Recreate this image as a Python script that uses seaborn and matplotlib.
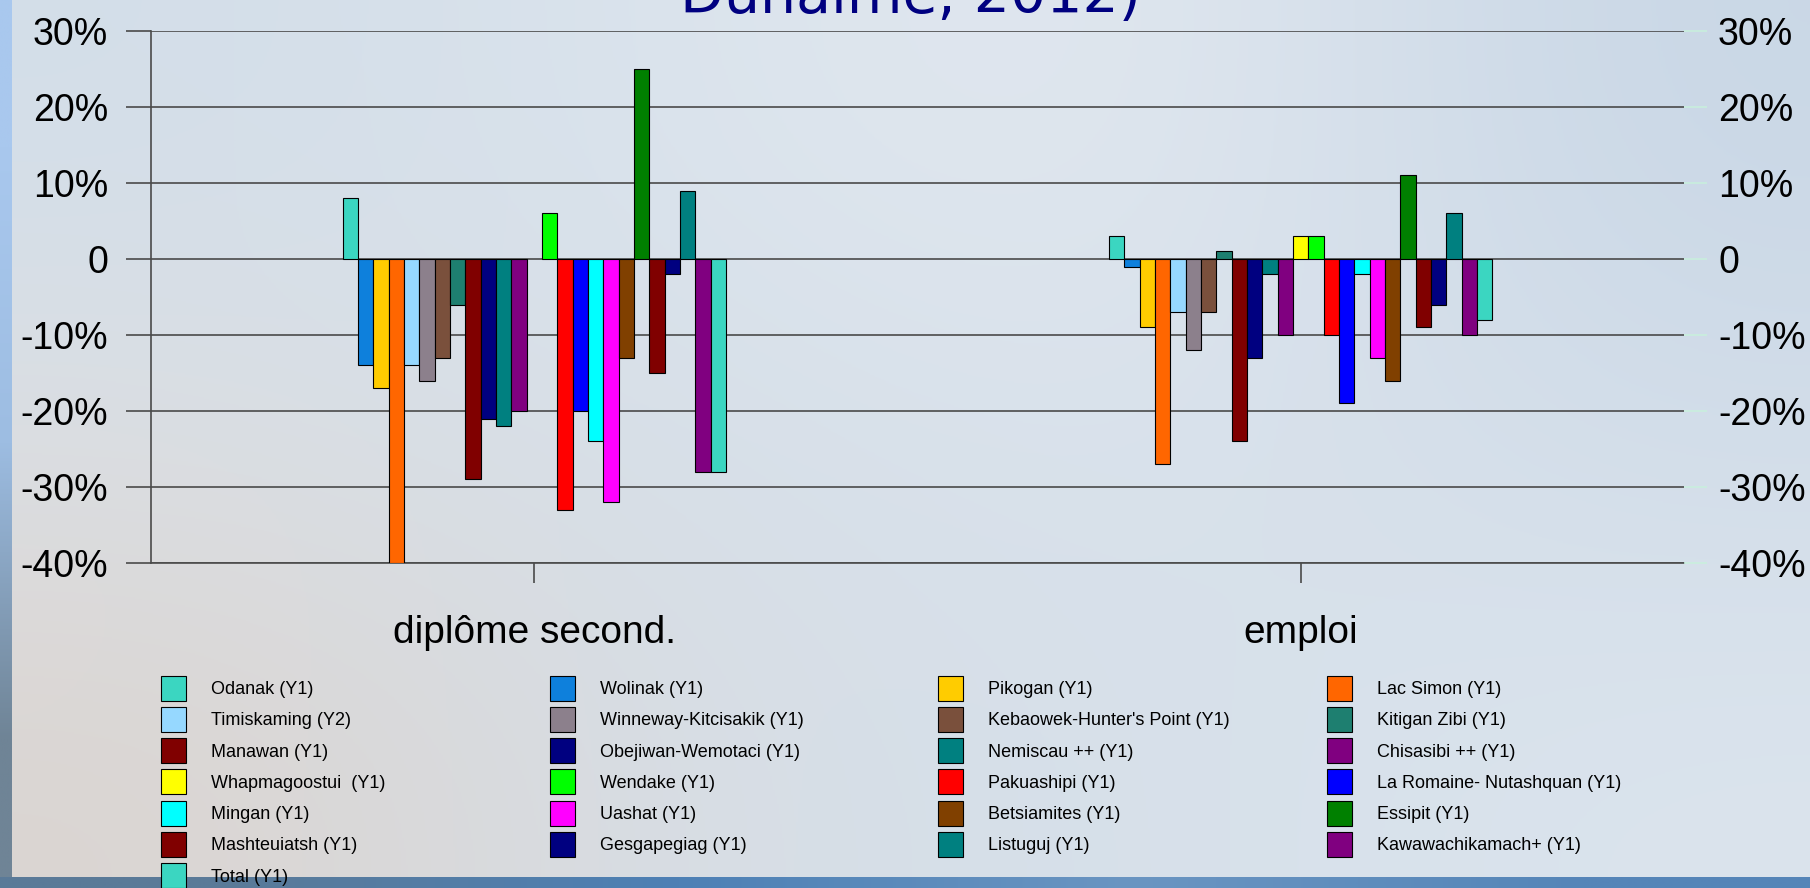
import numpy as np
import pandas as pd
import matplotlib
matplotlib.use("Agg")
import matplotlib.pyplot as plt
import matplotlib.colors as mcolors
import seaborn as sns
from matplotlib.patches import Patch

# ---------------- data ----------------
categories = ["diplôme second.", "emploi"]
series = ["Odanak (Y1)", "Wolinak (Y1)", "Pikogan (Y1)", "Lac Simon (Y1)",
          "Timiskaming (Y2)", "Winneway-Kitcisakik (Y1)", "Kebaowek-Hunter's Point (Y1)", "Kitigan Zibi (Y1)",
          "Manawan (Y1)", "Obejiwan-Wemotaci (Y1)", "Nemiscau ++ (Y1)", "Chisasibi ++ (Y1)",
          "Whapmagoostui  (Y1)", "Wendake (Y1)", "Pakuashipi (Y1)", "La Romaine- Nutashquan (Y1)",
          "Mingan (Y1)", "Uashat (Y1)", "Betsiamites (Y1)", "Essipit (Y1)",
          "Mashteuiatsh (Y1)", "Gesgapegiag (Y1)", "Listuguj (Y1)", "Kawawachikamach+ (Y1)",
          "Total (Y1)"]
diplome = [8, -14, -17, -40, -14, -16, -13, -6, -29, -21, -22, -20, np.nan,
           6, -33, -20, -24, -32, -13, 25, -15, -2, 9, -28, -28]
emploi = [3, -1, -9, -27, -7, -12, -7, 1, -24, -13, -2, -10, 3,
          3, -10, -19, -2, -13, -16, 11, -9, -6, 6, -10, -8]
colors = ["#3BD6C1", "#0E80DC", "#FFCC00", "#FF6600",
          "#96D8FF", "#8C808C", "#7A503C", "#1E7F70",
          "#800000", "#000080", "#008080", "#800080",
          "#FFFF00", "#00FF00", "#FF0000", "#0000FF",
          "#00FFFF", "#FF00FF", "#804000", "#008000",
          "#800000", "#000080", "#008080", "#800080",
          "#3BD6C1"]
ytick_values = [30, 20, 10, 0, -10, -20, -30, -40]
ytick_labels = ["30%", "20%", "10%", "0", "-10%", "-20%", "-30%", "-40%"]
title_text = "Dunaime, 2012)"

df = pd.DataFrame({
    "cat": [categories[0]] * len(series) + [categories[1]] * len(series),
    "series": series + series,
    "val": diplome + emploi,
}).dropna()

# ---------------- figure ----------------
W, H = 1810, 888
plt.rcParams["font.family"] = ["Liberation Sans", "DejaVu Sans"]
fig = plt.figure(figsize=(W / 100, H / 100), dpi=100)

# background
bg = fig.add_axes([0, 0, 1, 1], zorder=-10)
bg.set_xlim(0, W)
bg.set_ylim(H, 0)
bg.axis("off")
grid_cols = [["#d3dee9", "#dbe4ed", "#e3e9f0", "#c9d7e6"],
             ["#dcdfe3", "#d5dfe9", "#dbe3ec", "#d2dde9"],
             ["#dbd5d1", "#d7dee6", "#d6e0ea", "#dbe4ed"]]
img = np.array([[mcolors.to_rgb(c) for c in row] for row in grid_cols])
bg.imshow(img, extent=(11, W, 877, 0), interpolation="bicubic", aspect="auto")
strip = np.array([[mcolors.to_rgb("#a9c8ee")], [mcolors.to_rgb("#9dbde2")], [mcolors.to_rgb("#6f8496")]])
bg.imshow(strip, extent=(0, 11, H, 0), interpolation="bilinear", aspect="auto")
band = np.array([[mcolors.to_rgb("#5a7a98"), mcolors.to_rgb("#4d80b5"), mcolors.to_rgb("#6a95c2"), mcolors.to_rgb("#5585b8")]])
bg.imshow(band, extent=(0, W, H, 877), interpolation="bilinear", aspect="auto")

# main axes
ax = fig.add_axes([151 / W, 1 - 563 / H, (1684 - 151) / W, (563 - 31) / H])
ax.patch.set_alpha(0)
palette = dict(zip(series, colors))
sns.barplot(data=df, x="cat", y="val", hue="series", order=categories, hue_order=series,
            palette=palette, width=0.5, gap=0, errorbar=None, saturation=1,
            edgecolor="black", linewidth=0.8, legend=False, ax=ax, zorder=3)

gc = "#4a4a4a"
ax.set_xlim(-0.5, 1.5)
ax.set_ylim(-40, 30)
ax.set_yticks(ytick_values)
ax.set_yticklabels(ytick_labels)
ax.grid(axis="y", color=gc, lw=1.2, zorder=0)
ax.grid(axis="x", visible=False)
ax.set_axisbelow(True)
ax.set_xlabel("")
ax.set_ylabel("")
for s in ["top", "right"]:
    ax.spines[s].set_visible(False)
for s in ["left", "bottom"]:
    ax.spines[s].set_color(gc)
    ax.spines[s].set_linewidth(1.2)
ax.tick_params(axis="y", length=18, width=1.2, color=gc, pad=13, labelsize=27, labelcolor="black")
ax.tick_params(axis="x", length=14.4, width=1.2, color=gc, pad=23, labelsize=28, labelcolor="black")

ax2 = ax.twinx()
ax2.set_ylim(-40, 30)
ax2.set_yticks(ytick_values)
ax2.set_yticklabels(ytick_labels)
ax2.tick_params(axis="y", length=16.5, width=1.1, color="#c8f0dc", pad=8, labelsize=27, labelcolor="black")
for s in ax2.spines.values():
    s.set_visible(False)

# title (partly cut off at top, as in the source)
fig.text(910 / W, 1 - 13 / H, title_text, ha="center", va="baseline",
         fontsize=41, color="#000080", family="DejaVu Sans")

# legend: 4 columns, row-wise order
col_x = [161, 550, 938, 1327]
for j in range(4):
    idx = list(range(j, len(series), 4))
    handles = [Patch(facecolor=colors[i], edgecolor="black", linewidth=0.8) for i in idx]
    labels = [series[i] for i in idx]
    fig.legend(handles, labels, loc="upper left",
               bbox_to_anchor=(col_x[j] / W, 1 - 675.5 / H),
               frameon=False, borderpad=0, borderaxespad=0,
               handlelength=1.385, handleheight=1.754, handletextpad=1.38,
               labelspacing=0.35, fontsize=13)

fig.savefig("out.png", dpi=100)
